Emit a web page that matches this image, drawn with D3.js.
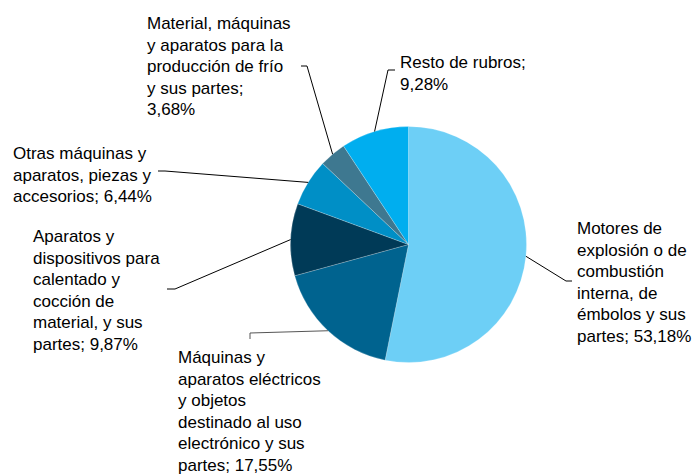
<!DOCTYPE html>
<html>
<head>
<meta charset="utf-8">
<script src="https://cdn.jsdelivr.net/npm/d3@7"></script>
<style>
  html, body { margin: 0; padding: 0; background: #fff; }
  svg { display: block; }
  text { font-family: "Liberation Sans", Arial, sans-serif; font-size: 17px; fill: #000; }
</style>
</head>
<body>
<svg id="chart" width="694" height="475"></svg>
<script>
// ---- data ----
const categories = [
  "Motores de explosión o de combustión interna, de émbolos y sus partes",
  "Máquinas y aparatos eléctricos y objetos destinado al uso electrónico y sus partes",
  "Aparatos y dispositivos para calentado y cocción de material, y sus partes",
  "Otras máquinas y aparatos, piezas y accesorios",
  "Material, máquinas y aparatos para la producción de frío y sus partes",
  "Resto de rubros"
];
const values = [53.18, 17.55, 9.87, 6.44, 3.68, 9.28];
const colors = ["#6DCFF6", "#00638F", "#003A57", "#008FC6", "#3E7890", "#00AEEF"];

// ---- layout (positions / wrapping only) ----
const lineWords = [
  [2, 3, 1, 2, 3, 2],
  [2, 2, 2, 3, 3, 2],
  [2, 2, 2, 2, 3, 2],
  [3, 3, 2],
  [2, 4, 3, 3, 1],
  [3, 1]
];
const labelPos = [   // x, first baseline
  [577, 234], [178, 363], [33, 242], [13, 159], [147, 29], [400, 68]
];
const leaderEnds = [
  [[566, 281], [572, 281]],
  [[250, 333], [250, 339]],
  [[175, 289], [167, 289]],
  [[165, 171], [158, 171]],
  [[307, 66], [301, 66]],
  [[388, 70], [395, 70]]
];
const lineHeight = 21.5;

const cx = 408.5, cy = 244.5, r = 118;
const svg = d3.select("#chart");
const g = svg.append("g").attr("transform", `translate(${cx},${cy})`);

const pie = d3.pie().sort(null).value(d => d)(values);
const arc = d3.arc().innerRadius(0).outerRadius(r);
const edge = d3.arc().innerRadius(r).outerRadius(r);

g.selectAll("path.slice").data(pie).join("path")
  .attr("class", "slice")
  .attr("d", arc)
  .attr("fill", (d, i) => colors[i])
  .attr("stroke", "#ffffff")
  .attr("stroke-opacity", 0.35)
  .attr("stroke-width", 0.6);

const fmt = v => d3.format(".2f")(v).replace(".", ",") + "%";

// leader lines
svg.selectAll("path.leader").data(pie).join("path")
  .attr("class", "leader")
  .attr("fill", "none")
  .attr("stroke", (d, i) => i === 1 ? "#555" : "#000")
  .attr("stroke-width", 1)
  .attr("d", (d, i) => {
    const p = edge.centroid(d);
    const pts = [[p[0] + cx, p[1] + cy], ...leaderEnds[i]];
    return d3.line()(pts);
  });

// labels
categories.forEach((c, i) => {
  const words = (c + "; " + fmt(values[i])).split(" ");
  const lines = [];
  let k = 0;
  lineWords[i].forEach(n => { lines.push(words.slice(k, k + n).join(" ")); k += n; });
  const t = svg.append("text")
    .attr("x", labelPos[i][0]).attr("y", labelPos[i][1]);
  lines.forEach((ln, j) => {
    t.append("tspan").attr("x", labelPos[i][0])
      .attr("y", labelPos[i][1] + j * lineHeight).text(ln);
  });
});
</script>
</body>
</html>
